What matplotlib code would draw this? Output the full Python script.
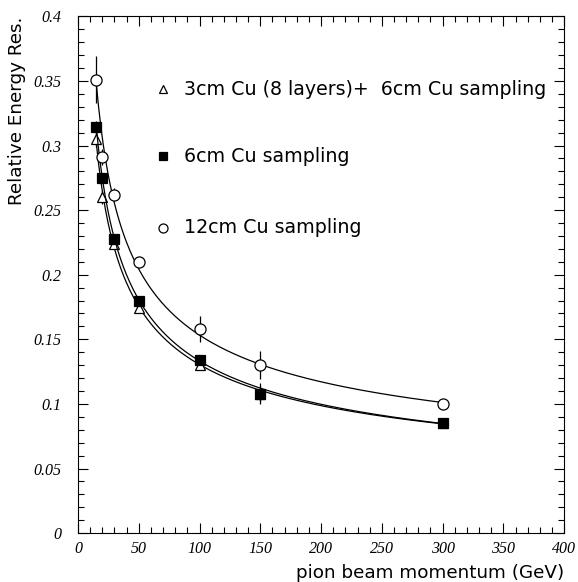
#!/usr/bin/env python3
"""
Relative energy resolution vs pion beam momentum for three Cu sampling configs.
"""

import matplotlib.pyplot as plt
import numpy as np
from matplotlib.ticker import MultipleLocator, FuncFormatter

# Data
energy = [15, 20, 30, 50, 100, 150, 300]

res_tri = [0.305, 0.260, 0.224, 0.174, 0.130, 0.108, 0.085]
err_tri = [0.006, 0.005, 0.004, 0.003, 0.004, 0.006, 0.002]

res_sq = [0.314, 0.275, 0.228, 0.180, 0.134, 0.108, 0.085]
err_sq = [0.005, 0.004, 0.003, 0.003, 0.004, 0.008, 0.002]

res_circ = [0.351, 0.291, 0.262, 0.210, 0.158, 0.130, 0.100]
err_circ = [0.018, 0.006, 0.005, 0.004, 0.010, 0.011, 0.002]

labels = ['3cm Cu (8 layers)+  6cm Cu sampling',
          '6cm Cu sampling',
          '12cm Cu sampling']

plt.rcParams.update({
    'font.family': 'DejaVu Sans',
    'xtick.direction': 'in',
    'ytick.direction': 'in',
    'xtick.top': True,
    'ytick.right': True,
})

fig = plt.figure(figsize=(5.78, 5.82), dpi=100)
ax = fig.add_axes([0.135, 0.084, 0.841, 0.888])


def fit_curve(x, y, e):
    # resolution fit: a/sqrt(E) + b, weighted by errors
    x = np.asarray(x, float)
    w = 1 / np.asarray(e, float)
    a, b = np.polyfit(1 / np.sqrt(x), y, 1, w=w)
    xs = np.linspace(x.min(), x.max(), 300)
    return xs, a / np.sqrt(xs) + b


series = [
    (res_tri, err_tri, dict(marker='^', mfc='white', mec='black', ms=7)),
    (res_sq, err_sq, dict(marker='s', mfc='black', mec='black', ms=7)),
    (res_circ, err_circ, dict(marker='o', mfc='white', mec='black', ms=8)),
]

for y, e, style in series:
    xs, ys = fit_curve(energy, y, e)
    ax.plot(xs, ys, color='black', lw=0.9)
    ax.errorbar(energy, y, yerr=e, fmt='none', ecolor='black', elinewidth=0.9,
                capsize=0)
    ax.plot(energy, y, ls='none', mew=0.9, **style)

# in-plot legend
leg_y = [0.3435, 0.2915, 0.2365]
leg_x = 70
for (y, e, style), ly, lab in zip(series, leg_y, labels):
    st = dict(style)
    st['ms'] = st['ms'] - 1.5
    ax.plot([leg_x], [ly], ls='none', mew=0.9, **st)
    ax.text(leg_x + 17, ly, lab, fontsize=13.7, va='center', ha='left')

ax.set_xlim(0, 400)
ax.set_ylim(0, 0.4)
ax.xaxis.set_major_locator(MultipleLocator(50))
ax.xaxis.set_minor_locator(MultipleLocator(10))
ax.yaxis.set_major_locator(MultipleLocator(0.05))
ax.yaxis.set_minor_locator(MultipleLocator(0.01))
ax.tick_params(which='major', length=7, width=0.8)
ax.tick_params(which='minor', length=4, width=0.8)
ax.tick_params(which='both', top=True, right=True)


def fmt(v, pos):
    s = f'{v:.2f}'.rstrip('0').rstrip('.')
    return s


ax.yaxis.set_major_formatter(FuncFormatter(fmt))
for lab in ax.get_xticklabels() + ax.get_yticklabels():
    lab.set_fontfamily('Liberation Serif')
    lab.set_fontstyle('italic')
    lab.set_fontsize(11.5)
ax.tick_params(axis='x', pad=6)
ax.tick_params(axis='y', pad=12)

for sp in ax.spines.values():
    sp.set_linewidth(0.8)

ax.set_xlabel('pion beam momentum (GeV)', fontsize=13.2, loc='right', labelpad=5)
ax.set_ylabel('Relative Energy Res.', fontsize=13.2, loc='top', labelpad=5)

plt.savefig('out.png', dpi=100)
plt.close()
